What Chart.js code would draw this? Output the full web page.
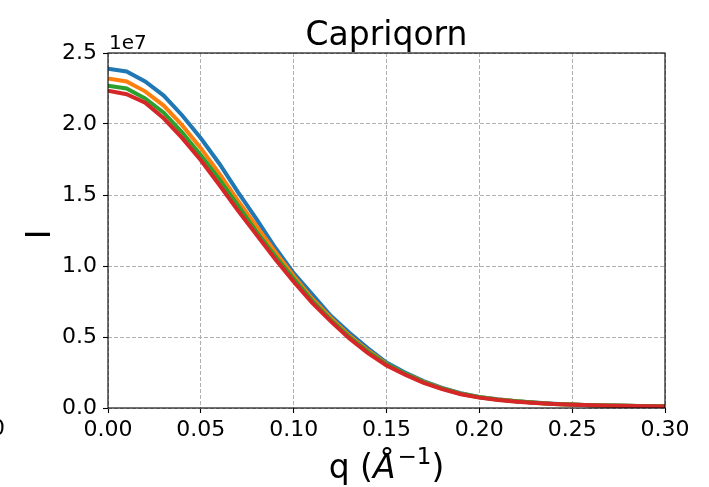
<!DOCTYPE html>
<html>
<head>
<meta charset="utf-8">
<script src="https://cdn.jsdelivr.net/npm/chart.js@4/dist/chart.umd.min.js"></script>
<style>
  html, body { margin: 0; padding: 0; background: #ffffff; }
  canvas { display: block; }
</style>
</head>
<body>
<canvas id="chart" width="709" height="487"></canvas>
<script>
// Scattering vector q (1/Å)
const qValues = [
  0.00, 0.01, 0.02, 0.03, 0.04, 0.05, 0.06, 0.07, 0.08, 0.09,
  0.10, 0.11, 0.12, 0.13, 0.14, 0.15, 0.16, 0.17, 0.18, 0.19,
  0.20, 0.21, 0.22, 0.23, 0.24, 0.25, 0.26, 0.27, 0.28, 0.29, 0.30
];

// Intensity curves, in units of 1e7
const intensityA = [
  2.39, 2.37, 2.30, 2.20, 2.06, 1.90, 1.72, 1.52, 1.33, 1.13,
  0.95, 0.80, 0.65, 0.53, 0.42, 0.32, 0.25, 0.19, 0.142, 0.104,
  0.078, 0.061, 0.048, 0.038, 0.030, 0.024, 0.020, 0.017, 0.015, 0.013, 0.012
];
const intensityB = [
  2.32, 2.30, 2.23, 2.13, 1.99, 1.83, 1.65, 1.46, 1.28, 1.10,
  0.93, 0.77, 0.635, 0.51, 0.405, 0.31, 0.243, 0.184, 0.138, 0.101,
  0.076, 0.060, 0.047, 0.037, 0.029, 0.024, 0.020, 0.017, 0.015, 0.013, 0.012
];
const intensityC = [
  2.27, 2.25, 2.18, 2.08, 1.94, 1.78, 1.61, 1.425, 1.24, 1.07,
  0.91, 0.755, 0.62, 0.50, 0.397, 0.307, 0.242, 0.183, 0.137, 0.100,
  0.076, 0.059, 0.047, 0.037, 0.029, 0.024, 0.020, 0.017, 0.015, 0.013, 0.012
];
const intensityD = [
  2.235, 2.21, 2.15, 2.04, 1.90, 1.745, 1.57, 1.39, 1.22, 1.05,
  0.89, 0.74, 0.61, 0.49, 0.387, 0.30, 0.235, 0.177, 0.133, 0.097,
  0.073, 0.056, 0.044, 0.035, 0.028, 0.023, 0.019, 0.016, 0.014, 0.012, 0.011
];

const seriesValues = [intensityA, intensityB, intensityC, intensityD];
const seriesColors = ['#1f77b4', '#ff7f0e', '#2ca02c', '#d62728'];

// Axis ticks
const xTicks = [0.00, 0.05, 0.10, 0.15, 0.20, 0.25, 0.30];
const yTicks = [0.0, 0.5, 1.0, 1.5, 2.0, 2.5];

const titleText = 'Capriqorn';
const offsetText = '1e7';
const yLabel = 'I';

const FONT = "'DejaVu Sans', 'Liberation Sans', sans-serif";

// Axes frame, titles and offset annotation
const decorations = {
  id: 'decorations',
  afterDatasetsDraw(chart) {
    const { ctx, chartArea: a } = chart;
    ctx.save();
    ctx.strokeStyle = '#000000';
    ctx.lineWidth = 1.1;
    ctx.setLineDash([]);
    ctx.strokeRect(a.left, a.top, a.right - a.left, a.bottom - a.top);
    ctx.restore();
  },
  afterDraw(chart) {
    const { ctx, chartArea: a } = chart;
    const cx = (a.left + a.right) / 2;
    ctx.save();
    ctx.fillStyle = '#000000';

    // title
    ctx.font = `33px ${FONT}`;
    ctx.textAlign = 'center';
    ctx.textBaseline = 'alphabetic';
    ctx.fillText(titleText, cx, a.top - 8);

    // exponent offset of the y axis
    ctx.font = `20px ${FONT}`;
    ctx.textAlign = 'left';
    ctx.fillText(offsetText, a.left + 1, a.top - 4);

    // y axis label
    ctx.save();
    ctx.translate(50, (a.top + a.bottom) / 2 + 4);
    ctx.rotate(-Math.PI / 2);
    ctx.font = `33px ${FONT}`;
    ctx.textAlign = 'center';
    ctx.fillText(yLabel, 0, 0);
    ctx.restore();

    // x axis label: q (Å^-1)
    const base = 478;
    const parts = [
      { t: 'q (', f: `33px ${FONT}`, dy: 0 },
      { t: 'Å', f: `italic 33px ${FONT}`, dy: 0 },
      { t: '\u22121', f: `23px ${FONT}`, dy: -14 },
      { t: ')', f: `33px ${FONT}`, dy: 0 }
    ];
    let total = 0;
    parts.forEach(p => { ctx.font = p.f; p.w = ctx.measureText(p.t).width; total += p.w; });
    parts[1].w += 2;
    total += 2;
    let x = cx - total / 2;
    ctx.textAlign = 'left';
    parts.forEach(p => { ctx.font = p.f; ctx.fillText(p.t, x, base + p.dy); x += p.w; });

    // partial tick label at the far left edge
    ctx.font = `22px ${FONT}`;
    ctx.textBaseline = 'middle';
    ctx.fillText('0', -9, 429);
    ctx.restore();
  }
};

// later series are painted over earlier ones
const datasets = seriesValues.map((vals, i) => ({
  data: qValues.map((q, k) => ({ x: q, y: vals[k] })),
  borderColor: seriesColors[i],
  backgroundColor: seriesColors[i],
  borderWidth: 4,
  pointRadius: 0,
  fill: false,
  tension: 0,
  clip: 0,
  order: seriesValues.length - 1 - i
}));

new Chart(document.getElementById('chart'), {
  type: 'line',
  data: { datasets },
  plugins: [decorations],
  options: {
    responsive: false,
    animation: false,
    devicePixelRatio: 1,
    layout: { padding: { left: 0, right: 44, top: 53, bottom: 0 } },
    plugins: { legend: { display: false }, tooltip: { enabled: false }, title: { display: false } },
    scales: {
      x: {
        type: 'linear',
        min: 0, max: 0.3,
        afterBuildTicks: s => { s.ticks = xTicks.map(v => ({ value: v })); },
        afterFit: s => { s.height = 79; },
        ticks: {
          color: '#000000',
          font: { family: FONT, size: 22 },
          padding: 4,
          maxRotation: 0,
          autoSkip: false,
          callback: v => Number(v).toFixed(2)
        },
        grid: { color: '#b0b0b0', lineWidth: 1, tickColor: '#000000', tickLength: 5, tickWidth: 1.1 },
        border: { display: false, dash: [4, 2] }
      },
      y: {
        type: 'linear',
        min: 0, max: 2.5,
        afterBuildTicks: s => { s.ticks = yTicks.map(v => ({ value: v })); },
        afterFit: s => { s.width = 108; },
        ticks: {
          color: '#000000',
          font: { family: FONT, size: 22 },
          padding: 6,
          autoSkip: false,
          callback: v => Number(v).toFixed(1)
        },
        grid: { color: '#b0b0b0', lineWidth: 1, tickColor: '#000000', tickLength: 5, tickWidth: 1.1 },
        border: { display: false, dash: [4, 2] }
      }
    }
  }
});
</script>
</body>
</html>
